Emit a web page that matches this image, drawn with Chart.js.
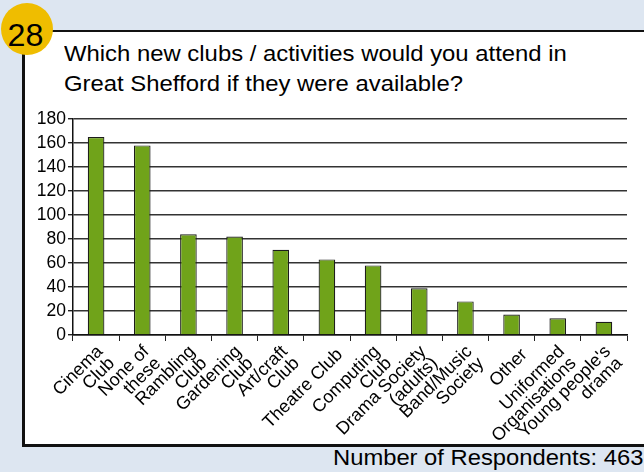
<!DOCTYPE html>
<html>
<head>
<meta charset="utf-8">
<script src="https://cdn.jsdelivr.net/npm/chart.js@4/dist/chart.umd.min.js"></script>
<style>
  html, body { margin: 0; padding: 0; }
  body {
    width: 644px; height: 472px; overflow: hidden; position: relative;
    background: #dde6f1;
    font-family: "Liberation Sans", Arial, Helvetica, sans-serif;
  }
  #panel {
    position: absolute; left: 22px; top: 30px; width: 640px; height: 412px;
    background: #ffffff;
    border-top: 2px solid #111; border-left: 3px solid #111; border-bottom: 3px solid #111;
  }
  #badge {
    position: absolute; left: 1px; top: 3px; width: 52px; height: 52px;
    border-radius: 50%; background: #efbd00; overflow: hidden;
  }
  #badge span {
    display: block; width: 49px; text-align: center;
    color: #000; font-size: 31px; line-height: 66px; margin-top: 0;
    transform: scaleX(1.04);
  }
  #title {
    position: absolute; left: 64px; top: 39px;
    font-size: 22px; line-height: 30px; color: #000; white-space: nowrap;
    transform: scaleX(1.085); transform-origin: 0 0;
  }
  #footer {
    position: absolute; right: 1px; top: 446px;
    font-size: 22px; line-height: 24px; color: #000; white-space: nowrap;
    transform: scaleX(1.08); transform-origin: 100% 0;
  }
  #wrap { position: absolute; left: 25px; top: 100px; width: 619px; height: 342px; }
</style>
</head>
<body>
<div id="panel"></div>
<div id="badge"><span>28</span></div>
<div id="title">Which new clubs / activities would you attend in<br>Great Shefford if they were available?</div>
<div id="wrap"><canvas id="chart"></canvas></div>
<div id="footer">Number of Respondents: 463</div>
<script>
// Clubs / activities respondents said they would attend
const categories = [
  ["Cinema", "Club"],
  ["None of", "these"],
  ["Rambling", "Club"],
  ["Gardening", "Club"],
  ["Art/craft", "Club"],
  "Theatre Club",
  ["Computing", "Club"],
  ["Drama Society", "(adults)"],
  ["Band/Music", "Society"],
  "Other",
  ["Uniformed", "Organisations"],
  ["Young people's", "drama"]
];
const respondents = [165, 158, 84, 82, 71, 63, 58, 39, 28, 17, 14, 11];
const yTicks = [0, 20, 40, 60, 80, 100, 120, 140, 160, 180];

const FONT = "'Liberation Sans', Arial, Helvetica, sans-serif";
// single-line category names sit centred on the slanted label block
const isSingle = (ctx) => !Array.isArray(categories[ctx.index]);

new Chart(document.getElementById('chart'), {
  type: 'bar',
  data: {
    labels: categories,
    datasets: [{
      data: respondents,
      backgroundColor: '#70a31a',
      borderColor: '#1c1c1c',
      borderWidth: 1.2,
      barPercentage: 0.36,
      categoryPercentage: 1.0
    }]
  },
  options: {
    responsive: true,
    maintainAspectRatio: false,
    animation: false,
    layout: { padding: { top: 19, right: 17, left: 0, bottom: 0 } },
    plugins: { legend: { display: false }, tooltip: { enabled: false } },
    scales: {
      x: {
        offset: true,
        grid: { offset: true, drawOnChartArea: false, drawTicks: true, tickLength: 6, color: '#222', lineWidth: 1 },
        border: { display: true, color: '#111', width: 1.5 },
        ticks: {
          color: '#000',
          font: (ctx) => ({ family: FONT, size: 18, lineHeight: isSingle(ctx) ? 1.4 : 0.92 }),
          showLabelBackdrop: (ctx) => isSingle(ctx),
          backdropColor: 'rgba(0,0,0,0)',
          backdropPadding: 0,
          labelOffset: 4,
          minRotation: 45, maxRotation: 45,
          autoSkip: false, padding: 2
        },
        afterFit: (s) => { s.height = 107; }
      },
      y: {
        min: 0, max: 180,
        afterBuildTicks: (s) => { s.ticks = yTicks.map(v => ({ value: v })); },
        grid: { color: '#333', lineWidth: 1.4, tickLength: 5, tickColor: '#222' },
        border: { display: true, color: '#111', width: 1.5 },
        ticks: {
          color: '#000',
          font: { family: FONT, size: 17.5 },
          padding: 2
        },
        afterFit: (s) => { s.width = 48; }
      }
    }
  }
});
</script>
</body>
</html>
